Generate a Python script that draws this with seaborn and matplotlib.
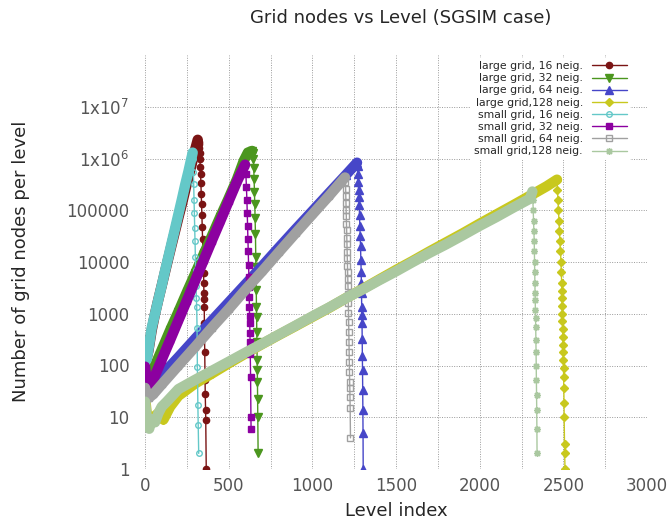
import seaborn as sns
import matplotlib.pyplot as plt

# ---- data (level index, grid nodes per level) ----
# each curve = ramp (dense band of points) + drop (the last levels)

# large grid, 16 neig.
lg16_ramp_lvl = [0, 10, 20, 40, 60, 80, 100, 120, 140, 160, 180, 200, 220, 240, 260, 280, 300, 315]
lg16_ramp_val = [180, 140, 190, 480, 1000, 1900, 3500, 6500, 12000, 22000, 40000, 73000, 130000, 240000,
                 440000, 800000, 1500000, 2300000]
lg16_drop_lvl = [318, 320, 322, 324, 326, 328, 330, 332, 334, 336, 338, 340, 342, 344, 346, 348, 350,
                 351, 352, 353, 354, 355, 357, 359, 360, 362, 363, 366]
lg16_drop_val = [2250000, 2100000, 1900000, 1600000, 1300000, 1000000, 700000, 500000, 330000, 210000,
                 130000, 80000, 48000, 28000, 16000, 9500, 6200, 4000, 2500, 1900, 1350, 660, 180, 52,
                 28, 14, 9, 1]

# large grid, 32 neig.
lg32_ramp_lvl = [0, 10, 20, 50, 100, 150, 200, 250, 300, 350, 400, 450, 500, 550, 590, 615, 640]
lg32_ramp_val = [70, 55, 50, 85, 200, 480, 1100, 2600, 6000, 14000, 32000, 75000, 170000, 400000,
                 900000, 1300000, 1400000]
lg32_drop_lvl = [645, 648, 650, 652, 654, 656, 658, 660, 662, 663, 664, 665, 666, 667, 668, 669, 670,
                 671, 672, 673, 674, 676]
lg32_drop_val = [1300000, 1000000, 650000, 400000, 230000, 130000, 70000, 35000, 12600, 8100, 5200,
                 2900, 1350, 870, 450, 290, 130, 83, 48, 23, 10, 2]

# large grid, 64 neig.
lg64_ramp_lvl = [0, 15, 40, 100, 200, 300, 400, 500, 600, 700, 800, 900, 1000, 1100, 1200, 1267]
lg64_ramp_val = [60, 45, 40, 65, 145, 330, 740, 1650, 3700, 8300, 19000, 43000, 96000, 215000,
                 480000, 830000]
lg64_drop_lvl = [1270, 1272, 1274, 1276, 1278, 1280, 1282, 1284, 1286, 1288, 1290, 1292, 1293, 1294,
                 1295, 1296, 1297, 1298, 1299, 1300, 1301, 1302, 1303, 1304]
lg64_drop_val = [710000, 500000, 350000, 250000, 180000, 125000, 80000, 50000, 32000, 20000, 11000,
                 6300, 4000, 2500, 1350, 950, 660, 320, 150, 81, 34, 14, 5, 1]

# large grid,128 neig.
lg128_ramp_lvl = [0, 10, 25, 50, 80, 110, 150, 200, 300, 400, 500, 600, 700, 800, 900, 1000, 1100,
                  1200, 1300, 1400, 1500, 1600, 1700, 1800, 1900, 2000, 2100, 2200, 2300, 2400, 2462]
lg128_ramp_val = [25, 12, 9, 10, 12, 9, 16, 26, 45, 70, 110, 170, 260, 390, 580, 870, 1300, 2000,
                  3000, 4600, 7000, 10500, 16000, 24000, 36000, 55000, 83000, 125000, 190000, 290000,
                  390000]
lg128_drop_lvl = [2465, 2468, 2471, 2474, 2477, 2480, 2483, 2486, 2488, 2490, 2491, 2492, 2493, 2494,
                  2495, 2496, 2497, 2498, 2499, 2500, 2501, 2502, 2503, 2504, 2505, 2507, 2508, 2510]
lg128_drop_val = [250000, 160000, 100000, 63000, 40000, 25000, 16000, 10000, 6300, 4000, 2800, 2000,
                  1400, 1000, 710, 500, 350, 250, 180, 126, 89, 60, 37, 19, 10, 3, 2, 1]

# small grid, 16 neig.
sg16_ramp_lvl = [0, 10, 20, 40, 60, 80, 100, 120, 140, 160, 180, 200, 220, 240, 260, 275, 285]
sg16_ramp_val = [150, 130, 200, 530, 1000, 1900, 3500, 6800, 12700, 24000, 45000, 85000, 160000,
                 310000, 570000, 940000, 1300000]
sg16_drop_lvl = [287, 289, 291, 293, 295, 297, 299, 301, 303, 305, 307, 309, 311, 313, 316, 318, 321]
sg16_drop_val = [1000000, 560000, 320000, 160000, 89000, 45000, 25000, 12600, 7100, 3500, 2000, 1350,
                 540, 93, 17, 7, 2]

# small grid, 32 neig.
sg32_ramp_lvl = [0, 10, 20, 40, 100, 150, 200, 250, 300, 350, 400, 450, 500, 550, 598]
sg32_ramp_val = [95, 50, 40, 45, 130, 310, 750, 1800, 4400, 10700, 26000, 62000, 150000, 360000, 760000]
sg32_drop_lvl = [603, 606, 609, 611, 613, 615, 617, 619, 621, 622, 623, 624, 625, 626, 627, 628, 629,
                 631, 633, 634]
sg32_drop_val = [500000, 280000, 160000, 89000, 50000, 28000, 16000, 8900, 5100, 3300, 2100, 1350, 910,
                 660, 430, 280, 170, 60, 10, 6]

# small grid, 64 neig.
sg64_ramp_lvl = [0, 10, 25, 50, 100, 200, 300, 400, 500, 600, 700, 800, 900, 1000, 1100, 1195]
sg64_ramp_val = [37, 30, 24, 28, 43, 100, 230, 540, 1230, 2900, 6600, 15500, 36000, 83000, 190000, 430000]
sg64_drop_lvl = [1198, 1199, 1200, 1201, 1202, 1203, 1204, 1205, 1206, 1207, 1208, 1209, 1210, 1211,
                 1212, 1213, 1214, 1215, 1216, 1217, 1218, 1219, 1220, 1221, 1222, 1223, 1224, 1225,
                 1226, 1228]
sg64_drop_val = [355000, 263000, 190000, 141000, 102000, 76000, 55000, 41000, 29500, 21900, 15800,
                 11700, 8500, 6300, 4600, 3400, 2450, 1580, 1050, 690, 450, 290, 180, 117, 76, 48, 37,
                 25, 15, 4]

# small grid,128 neig.
sg128_ramp_lvl = [0, 8, 15, 25, 40, 60, 80, 100, 130, 200, 300, 400, 500, 600, 700, 800, 900, 1000,
                  1100, 1200, 1300, 1400, 1500, 1600, 1700, 1800, 1900, 2000, 2100, 2200, 2300, 2315]
sg128_ramp_val = [20, 12, 8, 6, 9, 8, 12, 16, 20, 35, 53, 79, 118, 177, 263, 395, 590, 890, 1320, 2000,
                  2950, 4450, 6600, 10000, 15000, 22000, 33000, 50000, 74000, 112000, 167000, 230000]
sg128_drop_lvl = [2318, 2320, 2322, 2324, 2326, 2327, 2328, 2329, 2330, 2331, 2332, 2333, 2334, 2335,
                  2336, 2337, 2338, 2339, 2340, 2341, 2342, 2343]
sg128_drop_val = [158000, 100000, 63000, 40000, 25000, 16000, 10000, 6300, 4000, 2500, 1860, 1200, 830,
                  560, 316, 182, 100, 52, 27, 14, 6, 2]

labels = ['large grid, 16 neig.', 'large grid, 32 neig.', 'large grid, 64 neig.', 'large grid,128 neig.',
          'small grid, 16 neig.', 'small grid, 32 neig.', 'small grid, 64 neig.', 'small grid,128 neig.']
yticks = [1, 10, 100, 1000, 10000, 100000, 1e6, 1e7]
ytick_labels = ['1', '10', '100', '1000', '10000', '100000', '1x10$^{6}$', '1x10$^{7}$']

curves = [(lg16_ramp_lvl, lg16_ramp_val, lg16_drop_lvl, lg16_drop_val),
          (lg32_ramp_lvl, lg32_ramp_val, lg32_drop_lvl, lg32_drop_val),
          (lg64_ramp_lvl, lg64_ramp_val, lg64_drop_lvl, lg64_drop_val),
          (lg128_ramp_lvl, lg128_ramp_val, lg128_drop_lvl, lg128_drop_val),
          (sg16_ramp_lvl, sg16_ramp_val, sg16_drop_lvl, sg16_drop_val),
          (sg32_ramp_lvl, sg32_ramp_val, sg32_drop_lvl, sg32_drop_val),
          (sg64_ramp_lvl, sg64_ramp_val, sg64_drop_lvl, sg64_drop_val),
          (sg128_ramp_lvl, sg128_ramp_val, sg128_drop_lvl, sg128_drop_val)]

# gnuplot-ish styles
colors = ['#7a1414', '#4b961e', '#4646c8', '#c8c81e', '#64c8c8', '#8c00a0', '#a0a0a0', '#aac8a0']
markers = ['o', 'v', '^', 'D', 'o', 's', 's', (8, 2, 0)]
filled = [True, True, True, True, False, True, False, True]
msizes = [4.5, 5.5, 5.5, 4.0, 4.0, 5.0, 4.8, 5.0]

sns.set_style('white')
plt.rcParams['font.family'] = ['DejaVu Sans']

fig = plt.figure(figsize=(6.71, 5.24), dpi=100)
ax = fig.add_axes([145/671, 55/524, 502/671, 414/524])
ax.set_yscale('log')

for (rl, rv, dl, dv), lab, c, m, f, ms in zip(curves, labels, colors, markers, filled, msizes):
    # thick band formed by the densely packed points of the ramp
    sns.lineplot(x=rl, y=rv, color=c, linewidth=7.5, estimator=None, sort=False,
                 legend=False, ax=ax, solid_capstyle='round', solid_joinstyle='round')
    sns.lineplot(x=rl + dl, y=rv + dv, color=c, linewidth=1.0, marker=m, markersize=ms,
                 markerfacecolor=c if f else 'none', markeredgecolor=c, markeredgewidth=1.0,
                 estimator=None, sort=False, ax=ax, label=lab)

ax.set_xlim(0, 3000)
ax.set_ylim(1, 1e8)
ax.set_xticks(range(0, 3001, 500))
ax.set_xticks(range(250, 3000, 500), minor=True)
ax.set_yticks(yticks)
ax.set_yticklabels(ytick_labels)
ax.yaxis.set_minor_locator(plt.NullLocator())
ax.grid(True, which='both', axis='x', color='#9a9a9a', linestyle=(0, (1, 1.5)), linewidth=0.7)
ax.grid(True, which='major', axis='y', color='#9a9a9a', linestyle=(0, (1, 1.5)), linewidth=0.7)
ax.set_axisbelow(True)
for s in ax.spines.values():
    s.set_visible(False)
ax.tick_params(axis='both', which='both', length=0, labelsize=12, labelcolor='#555555')
ax.tick_params(axis='x', pad=6)
ax.tick_params(axis='y', pad=11)
ax.set_xlabel('')
ax.set_ylabel('')

leg = ax.legend(loc='upper right', bbox_to_anchor=(0.966, 0.993), borderaxespad=0, fontsize=7.8,
                markerfirst=False, frameon=True, facecolor='white', edgecolor='none', framealpha=1,
                fancybox=False, labelspacing=0.2, handlelength=3.2, handletextpad=0.85,
                borderpad=0.3)

fig.text(401/671, 1 - 18/524, 'Grid nodes vs Level (SGSIM case)', ha='center', va='center', fontsize=13)
fig.text(396/671, 1 - 511/524, 'Level index', ha='center', va='center', fontsize=13)
fig.text(21/671, 1 - 261/524, 'Number of grid nodes per level', ha='center', va='center',
         rotation=90, fontsize=13)

fig.savefig('out.png', dpi=100)
